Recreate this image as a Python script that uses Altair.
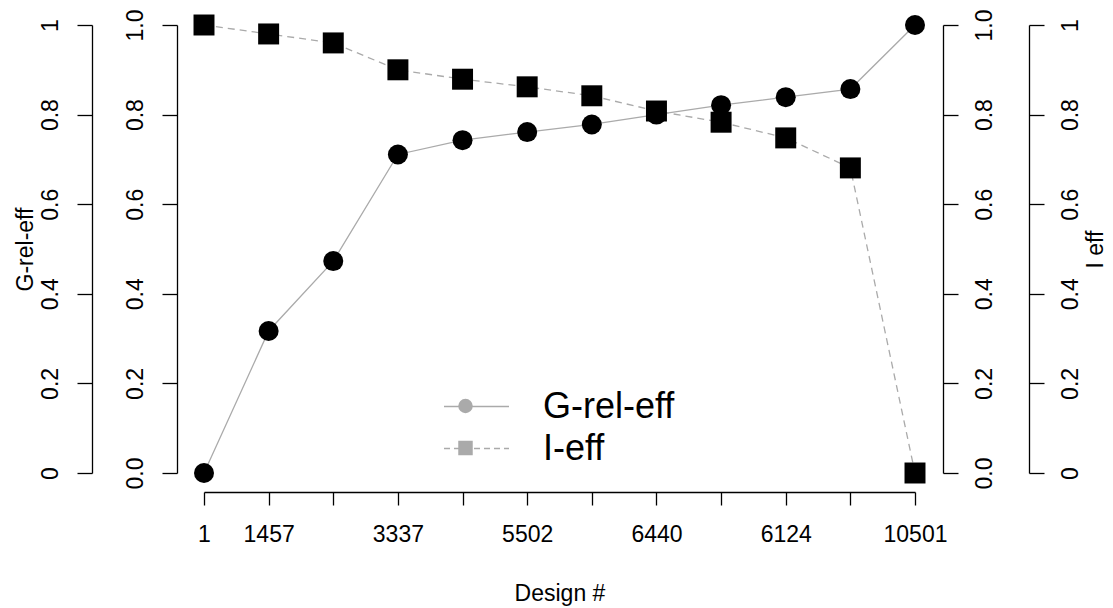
import altair as alt
import pandas as pd

# ---- data ----
design_idx = list(range(12))
tick_labels = ["1", "1457", "", "3337", "", "5502", "", "6440", "", "6124", "", "10501"]
g_rel_eff = [0.0, 0.317, 0.473, 0.711, 0.743, 0.761, 0.778, 0.800, 0.821, 0.839, 0.857, 1.0]
i_eff = [1.0, 0.98, 0.96, 0.90, 0.879, 0.862, 0.842, 0.808, 0.783, 0.748, 0.681, 0.0]
series_names = ["G-rel-eff", "I-eff"]
y_ticks = [0, 0.2, 0.4, 0.6, 0.8, 1.0]

df = pd.DataFrame({"idx": design_idx, "g": g_rel_eff, "i": i_eff})

FONT = "Liberation Sans"
GRAY = "#aaaaaa"
W, H = 766, 483

label_js = "[" + ",".join("'%s'" % t for t in tick_labels) + "][datum.value]"

x_enc = alt.X(
    "idx:Q",
    scale=alt.Scale(domain=[0, 11], range=[27, 738], nice=False, zero=False),
    axis=alt.Axis(
        values=design_idx, labelExpr=label_js, title="Design #",
        tickSize=13, labelPadding=18, titlePadding=36, offset=1,
        labelOverlap=False, grid=False, labelFlush=False,
        domainColor="black", tickColor="black", domainWidth=1.3, tickWidth=1.3,
        labelColor="black", titleColor="black", labelFont=FONT, titleFont=FONT,
        labelFontSize=23, titleFontSize=23, titleFontWeight="normal",
    ),
)


def yscale():
    return alt.Scale(domain=[0, 1], range=[465, 17], nice=False, zero=False)


def yaxis(orient, offset, fmt, title=None):
    kw = dict(
        orient=orient, offset=offset, values=y_ticks, format=fmt,
        tickSize=15, labelPadding=15, labelAngle=270, labelAlign="center",
        labelBaseline="bottom" if orient == "left" else "top",
        grid=False, labelOverlap=False, labelFlush=False,
        domainColor="black", tickColor="black", domainWidth=1.3, tickWidth=1.3,
        labelColor="black", labelFont=FONT, labelFontSize=23,
    )
    if title is not None:
        kw.update(title=title, titleFont=FONT, titleFontSize=23, titleColor="black",
                  titleFontWeight="normal", titleAngle=270, titlePadding=2,
                  titleBaseline="bottom" if orient == "left" else "top")
    else:
        kw.update(title=None)
    return alt.Axis(**kw)


base = alt.Chart(df)

g_line = base.mark_line(color=GRAY, strokeWidth=1.3).encode(
    x=x_enc, y=alt.Y("g:Q", scale=yscale(), axis=yaxis("left", 85, "~g", "G-rel-eff"))
)
g_pts = base.mark_point(shape="circle", filled=True, color="black", size=400, opacity=1).encode(
    x=x_enc, y=alt.Y("g:Q", scale=yscale(), axis=yaxis("left", 0, ".1f"))
)
i_line = base.mark_line(color=GRAY, strokeWidth=1.3, strokeDash=[7, 5]).encode(
    x=x_enc, y=alt.Y("i:Q", scale=yscale(), axis=yaxis("right", 86, "~g", "I eff"))
)
i_pts = base.mark_point(shape="square", filled=True, color="black", size=440, opacity=1).encode(
    x=x_enc, y=alt.Y("i:Q", scale=yscale(), axis=yaxis("right", 0, ".1f"))
)


def line_legend(y_top, dash):
    return dict(
        orient="none", legendX=266, legendY=y_top, title=None, padding=0,
        symbolType="stroke", symbolSize=4225, symbolStrokeColor=GRAY,
        symbolStrokeWidth=1.3, symbolOpacity=1, symbolDash=dash,
        labelFont=FONT, labelFontSize=36, labelColor="black", labelOffset=33,
        labelLimit=400,
    )


# legend row 1: solid line + label
legend_row1 = base.transform_filter("false").transform_calculate(
    series="'G-rel-eff'"
).mark_line(color=GRAY, strokeWidth=1.3).encode(
    strokeDash=alt.StrokeDash(
        "series:N",
        scale=alt.Scale(domain=series_names[:1], range=[[1, 0]]),
        legend=alt.Legend(**line_legend(365, [1, 0])),
    )
)

# legend row 2: dashed line + label
legend_row2 = base.transform_filter("false").transform_calculate(
    series_b="'I-eff'"
).mark_line(strokeWidth=1.3).encode(
    color=alt.Color(
        "series_b:N",
        scale=alt.Scale(domain=series_names[1:], range=[GRAY]),
        legend=alt.Legend(**line_legend(407, [6, 4])),
    )
)

# legend markers centred on those lines (own domain keys, no labels)
marker_keys = [s + " " for s in series_names]
legend_marks = base.transform_filter("false").transform_calculate(
    series2="'G-rel-eff '"
).mark_point(filled=True, color=GRAY, opacity=1).encode(
    shape=alt.Shape(
        "series2:N",
        scale=alt.Scale(domain=marker_keys, range=["circle", "square"]),
        legend=alt.Legend(
            orient="none", legendX=281, legendY=390.5, title=None, padding=0,
            symbolSize=210, symbolFillColor=GRAY, symbolStrokeWidth=0,
            symbolOpacity=1,
            labelFont=FONT, labelFontSize=1, labelExpr="''", labelOffset=0,
            rowPadding=27, labelLimit=400,
        ),
    )
)

chart = alt.layer(
    g_line, g_pts, i_line, i_pts, legend_row1, legend_row2, legend_marks
).resolve_scale(
    y="independent"
).properties(
    width=W, height=H,
    padding={"left": 169, "top": 0, "right": 162, "bottom": 116},
    autosize=alt.AutoSizeParams(type="none"),
).configure(background="white").configure_view(stroke=None)

chart.save("out.html", embed_options={"renderer": "svg", "actions": False})
